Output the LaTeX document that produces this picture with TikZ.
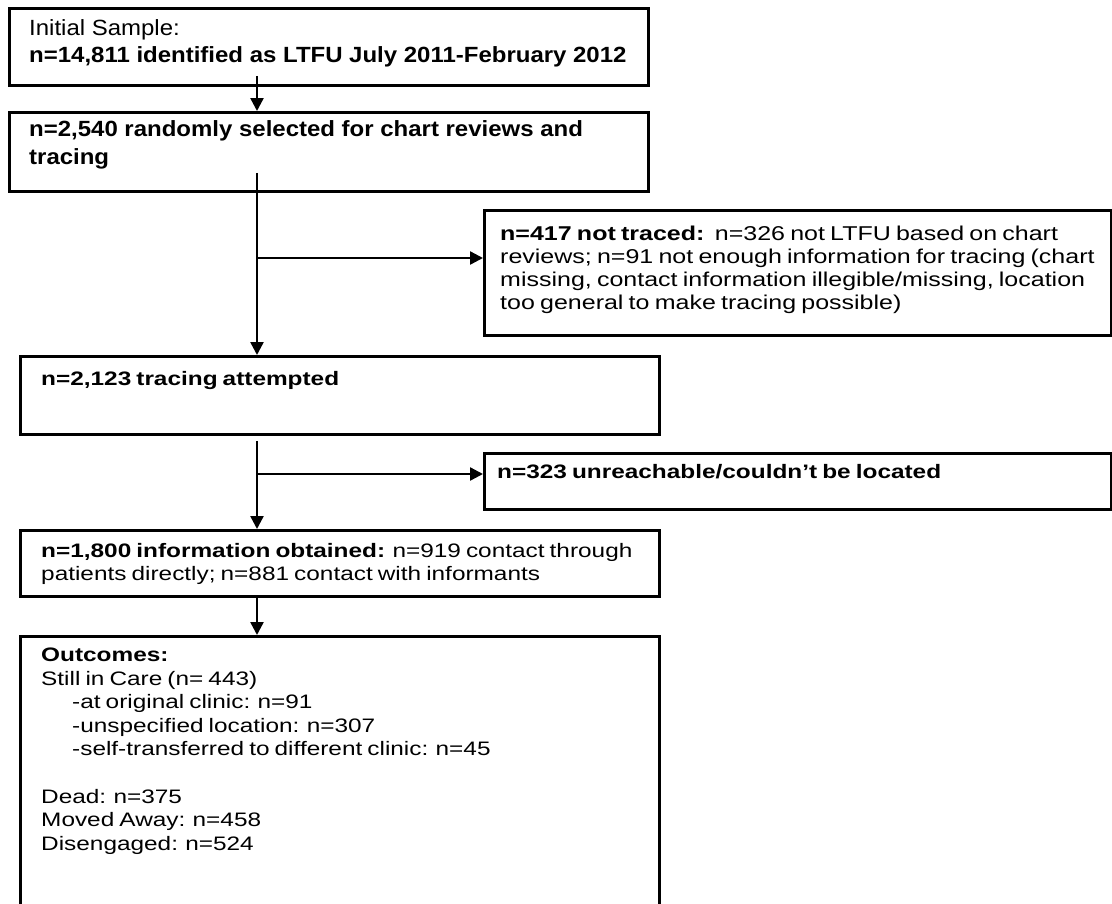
\documentclass[tikz,border=0pt]{standalone}
\usepackage{fontspec}
\setmainfont{Liberation Sans}
\newfontfamily\widetop{Liberation Sans}[FakeStretch=1.09]
\newfontfamily\widelow{Liberation Sans}[FakeStretch=1.25,WordSpace=0.75]
\usetikzlibrary{arrows.meta}

\begin{document}
\begin{tikzpicture}[x=1pt, y=-1pt,
    box/.style={draw, line width=2.9pt, inner sep=0pt, anchor=north west, minimum width=639pt},
    sidebox/.style={box, minimum width=627pt},
    toptext/.style={anchor=north west, inner sep=0pt, align=left, font=\widetop\fontsize{22}{27}\selectfont},
    boldtop/.style={toptext, font=\widetop\bfseries\fontsize{22}{28}\selectfont},
    lowtext/.style={anchor=north west, inner sep=0pt, align=left, font=\widelow\fontsize{19.5}{23.5}\selectfont},
    flow/.style={line width=2.4pt, -{Triangle[length=13pt, width=13pt]}}]

    % 0. Page size of the reference
    \useasboundingbox (0,0) rectangle (1112,903);
    \clip (0,0) rectangle (1112,903);

    % 1. The boxes
    % Main column
    \node[box, minimum height=77pt] (initial) at (8,7) {};
    \node[box, minimum height=79pt] (selected) at (8,111) {};
    \node[box, minimum height=78pt] (attempted) at (19,355) {};
    \node[box, minimum height=66pt] (obtained) at (19,529) {};
    \node[box, minimum height=300pt] (outcomes) at (19,635) {};   % runs off the bottom

    % Side boxes
    \node[sidebox, minimum height=125pt] (nottraced) at (483,209) {};
    \node[sidebox, minimum height=56pt] (unreach) at (483,452) {};

    % 2. The texts
    \node[toptext] (initialtxt) at ([shift={(21,12)}]initial.north west)
        {Initial Sample:\\ \textbf{n=14,811 identified as LTFU July 2011-February 2012}};
    \node[boldtop] (selectedtxt) at ([shift={(21,9)}]selected.north west)
        {n=2,540 randomly selected for chart reviews and\\ tracing};
    \node[lowtext, font=\widelow\fontsize{20}{23}\selectfont] (nottracedtxt) at ([shift={(17,17)}]nottraced.north west)
        {\textbf{n=417 not traced:}\ \ n=326 not LTFU based on chart\\
         reviews; n=91 not enough information for tracing (chart\\
         missing, contact information illegible/missing, location\\
         too general to make tracing possible)};
    \node[lowtext] (attemptedtxt) at ([shift={(22,16)}]attempted.north west)
        {\textbf{n=2,123 tracing attempted}};
    \node[lowtext] (unreachtxt) at ([shift={(14,12)}]unreach.north west)
        {\textbf{n=323 unreachable/couldn’t be located}};
    \node[lowtext] (obtainedtxt) at ([shift={(22,14)}]obtained.north west)
        {\textbf{n=1,800 information obtained:} n=919 contact through\\
         patients directly; n=881 contact with informants};
    \node[lowtext] (outcomestxt) at ([shift={(22,13)}]outcomes.north west)
        {\textbf{Outcomes:}\\
         Still in Care (n= 443)\\
         \hspace*{31pt}-at original clinic: n=91\\
         \hspace*{31pt}-unspecified location: n=307\\
         \hspace*{31pt}-self-transferred to different clinic: n=45\\[24pt]
         Dead: n=375\\
         Moved Away: n=458\\
         Disengaged: n=524};

    % 3. The arrows
    \coordinate (spine) at (257,0);     % x of the main line
    \coordinate (fork1) at (257,258);   % branch to the not traced box
    \coordinate (fork2) at (257,474);   % branch to the unreachable box

    \draw[flow] ([yshift=11pt]spine |- initial.south) -- (spine |- selected.north);
    \draw[flow] ([yshift=20pt]spine |- selected.south) -- (spine |- attempted.north);
    \draw[flow] (fork1) -- (fork1 -| nottraced.west);
    \draw[flow] ([yshift=-5pt]spine |- attempted.south) -- (spine |- obtained.north);
    \draw[flow] (fork2) -- (fork2 -| unreach.west);
    \draw[flow] (spine |- obtained.south) -- (spine |- outcomes.north);

\end{tikzpicture}
\end{document}
